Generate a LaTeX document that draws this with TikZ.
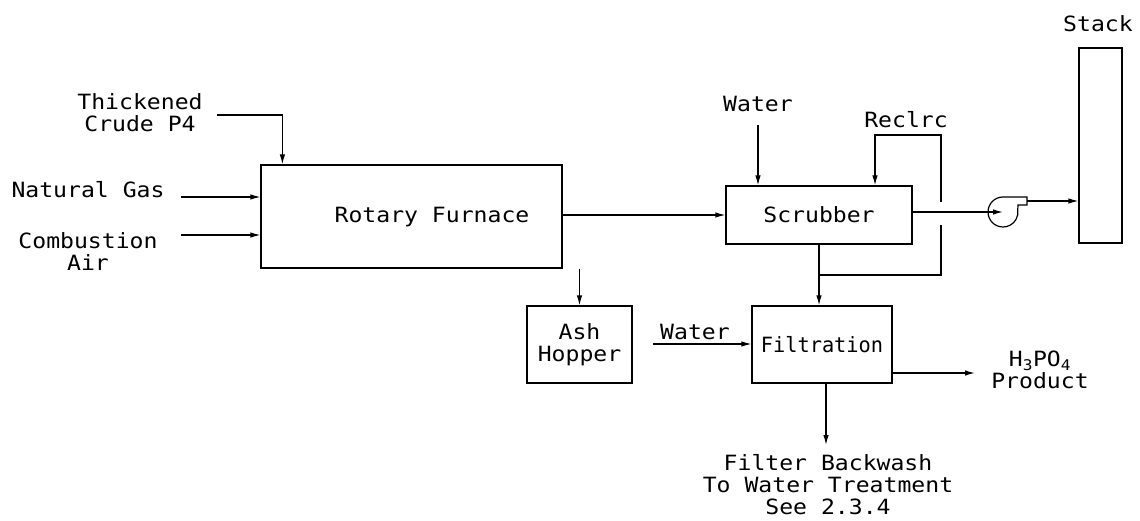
\documentclass[tikz,border=0pt]{standalone}
\usepackage{fontspec}
\setmainfont[FakeStretch=1.1]{DejaVu Sans Mono}
\usetikzlibrary{arrows.meta}
\newcommand\dfont{\fontsize{21}{22}\selectfont}
\begin{document}
\begin{tikzpicture}[x=1pt,y=-1pt,
  box/.style={draw,line width=1.2pt,inner sep=0pt,align=center,font=\dfont},
  lab/.style={inner sep=0pt,align=center,font=\dfont},
  flow/.style={line width=1.2pt,-{Latex[length=10pt,width=5.5pt]}},
  pipe/.style={line width=1.2pt}]
\useasboundingbox (0,0) rectangle (1140,521);

% units
\node[box,minimum width=301pt,minimum height=103pt] (furnace) at (411.5,216.5) {};
\node[lab] (furnacetxt) at (432,217) {Rotary Furnace};
\node[box,minimum width=186pt,minimum height=58pt] (scrub) at (819,215) {Scrubber};
\node[box,minimum width=105pt,minimum height=77pt] (ash) at (579.5,344.5) {Ash\\Hopper};
\node[box,minimum width=140pt,minimum height=77pt] (filt) at (822,344.5) {};
\node[lab] (filttxt) at (822,345) {\scalebox{0.88}[1]{Filtration}};
\node[box,minimum width=43pt,minimum height=195pt] (stack) at (1100.5,145.5) {};

% labels
\node[lab] (thick) at (140,113) {Thickened\\Crude P4};
\node[lab] (ng) at (88,190) {Natural Gas};
\node[lab] (ca) at (88,252) {Combustion\\Air};
\node[lab] (w1) at (758,104) {Water};
\node[lab] (rec) at (906,120) {Reclrc};
\node[lab] (stk) at (1098,24) {Stack};
\node[lab] (w2) at (695,332) {Water};
\node[lab] (prod) at (1040,370) {H\textsubscript{3}PO\textsubscript{4}\\Product};
\node[lab] (bw) at (828,485) {Filter Backwash\\To Water Treatment\\See 2.3.4};

% free ends
\coordinate (t0) at (217,115);
\coordinate (ng0) at (181,197);
\coordinate (ca0) at (181,235);
\coordinate (w1e) at (758,125);
\coordinate (r1) at (941,275);
\coordinate (r1b) at (941,225);
\coordinate (r2) at (941,202);
\coordinate (rt) at (875,135);
\coordinate (fanin) at (1003,212);
\coordinate (fo) at (1027,201);
\coordinate (w2s) at (653,344);
\coordinate (pe) at (975,373);
\coordinate (be) at (826,445);

% connectors
\draw[flow] (t0) -| ([xshift=22pt]furnace.north west);
\draw[flow] (ng0) -- (ng0 -| furnace.west);
\draw[flow] (ca0) -- (ca0 -| furnace.west);
\draw[flow] (furnace.east |- scrub.west) -- (scrub.west);
\draw[flow] (furnace.south -| ash.north) -- (ash.north);
\draw[flow] (w1e) -- (w1e |- scrub.north);
\draw[flow] (scrub.south) -- (scrub.south |- filt.north);
\draw[pipe] (scrub.south |- r1) -- (r1) -- (r1b);
\draw[flow] (r2) |- (rt) -- (rt |- scrub.north);
\draw[flow] (scrub.east |- fanin) -- (fanin);
\draw[pipe] (1003,197) arc[start angle=90,end angle=370,radius=15pt] -- (1018,205) -- (1027,205) -- (1027,197) -- cycle;
\draw[flow] (fo) -- (fo -| stack.west);
\draw[flow] (w2s) -- (w2s -| filt.west);
\draw[flow] (filt.east |- pe) -- (pe);
\draw[flow] (filt.south -| be) -- (be);
\end{tikzpicture}
\end{document}
